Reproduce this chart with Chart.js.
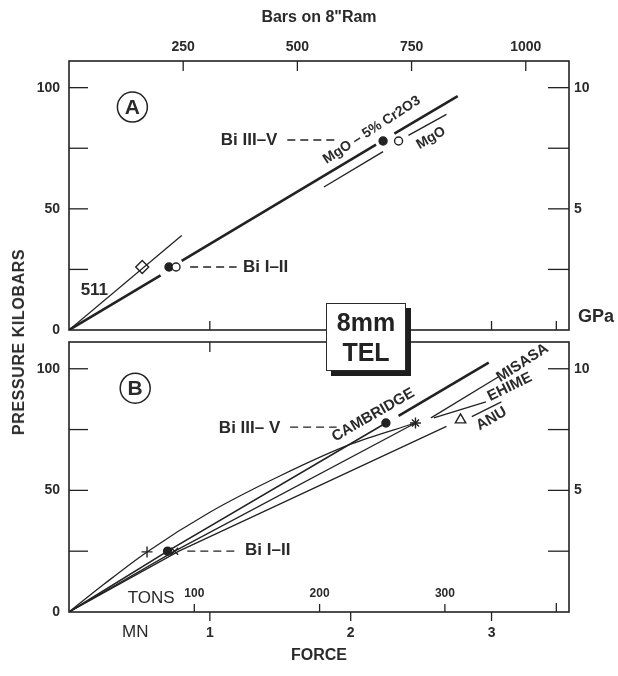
<!DOCTYPE html>
<html>
<head>
<meta charset="utf-8">
<script src="https://cdn.jsdelivr.net/npm/chart.js@4.4.1/dist/chart.umd.min.js"></script>
<style>
  html, body { margin: 0; padding: 0; background: #fff; }
  #wrap { position: relative; width: 618px; height: 676px; overflow: hidden; }
  canvas { position: absolute; left: 0; }
  #chartA { top: 0; }
  #chartB { top: 300px; }
  .ytitle {
    position: absolute; left: 19px; top: 342px;
    transform: translate(-50%, -50%) rotate(-90deg);
    font: bold 16px 'Liberation Sans', Arial, sans-serif;
    letter-spacing: 0.6px; white-space: nowrap; color: #2a2a2a;
  }
  .tel {
    position: absolute; left: 326px; top: 303px; width: 80px; height: 68px;
    box-sizing: border-box; border: 1.5px solid #2a2a2a; background: #fff;
    box-shadow: 5px 5px 0 #1e1e1e; text-align: center; color: #222;
    font: bold 25px/30px 'Liberation Sans', Arial, sans-serif; padding-top: 3px;
  }
</style>
</head>
<body>
<div id="wrap">
  <canvas id="chartA" width="618" height="370"></canvas>
  <canvas id="chartB" width="618" height="376"></canvas>
  <div class="ytitle">PRESSURE KILOBARS</div>
  <div class="tel">8mm<br>TEL</div>
</div>
<script>
// axis ranges and conversions (force in MN, pressure in kbar)
const forceMax = 3.55
const kbarMax = 111
const barsPerMN = 1000 / 3.243   // 8" ram
const tonsPerMN = 1000 / 8.896   // short tons

// tick labels
const barsTicks = [250, 500, 750, 1000]
const kbarTicks = [0, 50, 100]
const kbarMarks = [25, 50, 75, 100]
const gpaTicks = [5, 10]
const gpaMarks = [2.5, 5, 7.5, 10]
const mnTicks = [1, 2, 3]
const tonsTicks = [100, 200, 300]
const pressEndMN = [3.46]

// panel A : MgO-5%Cr2O3 (thick), MgO, 511
const aCrForce = [0, 0.65, 0.72, 0.80, 2.18, 2.24, 2.31, 2.76]
const aCrKbar = [0, 22.5, null, 28.5, 76.5, null, 81, 96.5]
const aMgoForce = [1.81, 2.23, 2.32, 2.41, 2.68]
const aMgoKbar = [59, 73.6, null, 80.3, 89]
const a511Force = [0, 0.80]
const a511Kbar = [0, 39]
const aFilledForce = [0.71, 2.23]
const aFilledKbar = [26, 78]
const aOpenForce = [0.76, 2.34]
const aOpenKbar = [26, 78]
const a511PtForce = [0.52]
const a511PtKbar = [26]
const aBi35Force = [1.55, 1.92]
const aBi35Kbar = [78.4, 78.4]
const aBi12Force = [0.86, 1.19]
const aBi12Kbar = [26, 26]

// panel B : lab calibrations
const misasaForce = [0, 0.25, 0.554, 1.0, 1.5, 2.0, 2.46]
const misasaKbar = [0, 11.5, 24.7, 41, 56, 69, 77.7]
const misasaLeadForce = [2.57, 3.05]
const misasaLeadKbar = [79.8, 96.7]
const cambForce = [0, 0.70, 2.25]
const cambKbar = [0, 25, 77.7]
const cambLeadForce = [2.34, 2.98]
const cambLeadKbar = [80.6, 102.5]
const ehimeForce = [0, 0.75, 2.46]
const ehimeKbar = [0, 25, 77.7]
const ehimeLeadForce = [2.59, 2.96]
const ehimeLeadKbar = [79.8, 86.4]
const anuForce = [0, 0.78, 2.68]
const anuKbar = [0, 25, 76.3]
const anuLeadForce = [2.86, 3.07]
const anuLeadKbar = [80.3, 86.4]
const cambPtForce = [0.70, 2.25]
const cambPtKbar = [25, 77.7]
const misasaPtForce = [0.554, 2.46]
const misasaPtKbar = [24.7, 77.7]
const ehimePtForce = [0.75, 2.46]
const ehimePtKbar = [25, 77.7]
const anuPtForce = [2.78]
const anuPtKbar = [79]
const bBi35Force = [1.57, 1.90]
const bBi35Kbar = [76, 76]
const bBi12Force = [0.84, 1.19]
const bBi12Kbar = [25, 25]

const ink = '#222'
const textInk = '#2a2a2a'
const family = "'Liberation Sans', Arial, sans-serif"
Chart.defaults.font.family = family
Chart.defaults.color = textInk

const pts = (xs, ys) => xs.map((x, i) => ({ x: x, y: ys[i] }))

function line(xs, ys, width, extra) {
  return Object.assign({ data: pts(xs, ys), borderColor: ink, borderWidth: width, pointRadius: 0, fill: false, tension: 0 }, extra || {})
}
function marks(xs, ys, style, radius, filled) {
  return {
    data: pts(xs, ys), showLine: false, pointStyle: style, pointRadius: radius,
    pointBorderColor: ink, pointBorderWidth: 1.4,
    pointBackgroundColor: filled ? ink : '#fff'
  }
}

// inward frame ticks + frame
const frameTicks = {
  id: 'frameTicks',
  beforeDatasetsDraw(chart, args, opts) {
    const { ctx, chartArea: a } = chart
    ctx.save()
    ctx.strokeStyle = ink
    ctx.lineWidth = 1.3
    for (const t of opts.marks) {
      const s = chart.scales[t.scale]
      for (const v of t.values) {
        const p = s.getPixelForValue(v)
        ctx.beginPath()
        if (t.side === 'left') { ctx.moveTo(a.left, p); ctx.lineTo(a.left + t.len, p) }
        if (t.side === 'right') { ctx.moveTo(a.right - t.len, p); ctx.lineTo(a.right, p) }
        if (t.side === 'top') { ctx.moveTo(p, a.top); ctx.lineTo(p, a.top + t.len) }
        if (t.side === 'bottom') { ctx.moveTo(p, a.bottom); ctx.lineTo(p, a.bottom + t.len) }
        ctx.stroke()
      }
    }
    ctx.lineWidth = 1.6
    ctx.strokeRect(a.left, a.top, a.right - a.left, a.bottom - a.top)
    ctx.restore()
  }
}

// labels, circled panel letters
const notes = {
  id: 'notes',
  afterDatasetsDraw(chart, args, opts) {
    const { ctx, chartArea: a } = chart
    const xs = chart.scales.x, ys = chart.scales.y
    ctx.save()
    ctx.fillStyle = textInk
    for (const n of opts.items) {
      const sx = chart.scales[n.xScale || 'x']
      let px = n.x !== undefined ? sx.getPixelForValue(n.x) : a.right + n.dx
      let py = n.y !== undefined ? ys.getPixelForValue(n.y) : a.bottom + n.dy
      ctx.save()
      ctx.translate(px, py)
      ctx.rotate((n.rot || 0) * Math.PI / 180)
      ctx.font = (n.weight || 'bold') + ' ' + n.size + 'px ' + family
      ctx.textAlign = n.align || 'center'
      ctx.textBaseline = 'middle'
      ctx.fillText(n.text, 0, 0)
      ctx.restore()
    }
    if (opts.circle) {
      const c = opts.circle
      const px = xs.getPixelForValue(c.x), py = ys.getPixelForValue(c.y)
      ctx.strokeStyle = ink
      ctx.lineWidth = 1.5
      ctx.beginPath()
      ctx.arc(px, py, 15, 0, Math.PI * 2)
      ctx.stroke()
      ctx.font = 'bold 21px ' + family
      ctx.textAlign = 'center'
      ctx.textBaseline = 'middle'
      ctx.fillText(c.text, px, py + 1)
    }
    ctx.restore()
  }
}

const tickFont = { size: 14, weight: 'bold' }
const setTicks = (list) => (s) => { s.ticks = list.map(v => ({ value: v })) }
const plain = (v) => String(v)

function yAxes() {
  return {
    y: {
      type: 'linear', position: 'left', min: 0, max: kbarMax,
      grid: { display: false, drawTicks: false }, border: { display: false },
      ticks: { font: tickFont, padding: 9, callback: plain },
      afterBuildTicks: setTicks(kbarTicks),
      afterFit: (s) => { s.width = 69 }
    },
    gpa: {
      type: 'linear', position: 'right', min: 0, max: kbarMax / 10,
      grid: { display: false, drawTicks: false }, border: { display: false },
      ticks: { font: tickFont, padding: 5, callback: plain },
      afterBuildTicks: setTicks(gpaTicks),
      afterFit: (s) => { s.width = 49 }
    }
  }
}

const chartA = new Chart(document.getElementById('chartA'), {
  type: 'line',
  data: {
    datasets: [
      line(aCrForce, aCrKbar, 2.6),
      line(aMgoForce, aMgoKbar, 1.4),
      line(a511Force, a511Kbar, 1.3),
      line(aBi35Force, aBi35Kbar, 1.3, { borderDash: [8, 5] }),
      line(aBi12Force, aBi12Kbar, 1.3, { borderDash: [8, 5] }),
      marks(aOpenForce, aOpenKbar, 'circle', 4, false),
      marks(aFilledForce, aFilledKbar, 'circle', 4, true),
      marks(a511PtForce, a511PtKbar, 'rectRot', 6.5, false)
    ]
  },
  options: {
    responsive: false, animation: false, devicePixelRatio: 1,
    layout: { padding: { top: 0, bottom: 40, left: 0, right: 0 } },
    scales: Object.assign({
      x: { type: 'linear', position: 'bottom', min: 0, max: forceMax, display: false },
      bars: {
        type: 'linear', position: 'top', min: 0, max: forceMax * barsPerMN,
        grid: { display: false, drawTicks: false }, border: { display: false },
        ticks: { font: tickFont, padding: 5, callback: plain },
        afterBuildTicks: setTicks(barsTicks),
        afterFit: (s) => { s.height = 61 },
        title: { display: true, text: 'Bars on 8"Ram', font: { size: 16, weight: 'bold' }, padding: { top: 8, bottom: 0 } }
      }
    }, yAxes()),
    plugins: {
      legend: { display: false },
      tooltip: { enabled: false },
      frameTicks: {
        marks: [
          { scale: 'y', values: kbarMarks, side: 'left', len: 19 },
          { scale: 'gpa', values: gpaMarks, side: 'right', len: 21 },
          { scale: 'bars', values: barsTicks, side: 'top', len: 10 },
          { scale: 'x', values: mnTicks.concat(pressEndMN), side: 'bottom', len: -9 }
        ]
      },
      notes: {
        circle: { x: 0.45, y: 92, text: 'A' },
        items: [
          { text: 'Bi III–V', x: 1.48, y: 78.4, align: 'right', size: 17 },
          { text: 'Bi I–II', x: 1.235, y: 26, align: 'left', size: 17 },
          { text: '511', x: 0.18, y: 16.5, size: 17 },
          { text: 'MgO – 5% Cr2O3', x: 2.15, y: 82.5, rot: -33, size: 14 },
          { text: 'MgO', x: 2.57, y: 79.2, rot: -30, size: 14 },
          { text: 'GPa', dx: 9, dy: -13, align: 'left', size: 18 }
        ]
      }
    }
  },
  plugins: [frameTicks, notes]
})

const chartB = new Chart(document.getElementById('chartB'), {
  type: 'line',
  data: {
    datasets: [
      line(misasaForce, misasaKbar, 1.3, { cubicInterpolationMode: 'monotone' }),
      line(misasaLeadForce, misasaLeadKbar, 1.3),
      line(cambForce, cambKbar, 1.6),
      line(cambLeadForce, cambLeadKbar, 2.6),
      line(ehimeForce, ehimeKbar, 1.3),
      line(ehimeLeadForce, ehimeLeadKbar, 1.3),
      line(anuForce, anuKbar, 1.3),
      line(anuLeadForce, anuLeadKbar, 1.3),
      line(bBi35Force, bBi35Kbar, 1.3, { borderDash: [8, 5] }),
      line(bBi12Force, bBi12Kbar, 1.3, { borderDash: [8, 5] }),
      marks(anuPtForce, anuPtKbar, 'triangle', 6, false),
      marks(cambPtForce, cambPtKbar, 'circle', 4, true),
      marks(misasaPtForce, misasaPtKbar, 'cross', 5.5, false),
      marks(ehimePtForce, ehimePtKbar, 'crossRot', 5, false)
    ]
  },
  options: {
    responsive: false, animation: false, devicePixelRatio: 1,
    layout: { padding: { top: 42, bottom: 0, left: 0, right: 0 } },
    scales: Object.assign({
      x: {
        type: 'linear', position: 'bottom', min: 0, max: forceMax,
        grid: { display: false, drawTicks: false }, border: { display: false },
        ticks: { font: tickFont, padding: 13, callback: plain },
        afterBuildTicks: setTicks(mnTicks),
        afterFit: (s) => { s.height = 64 },
        title: { display: true, text: 'FORCE', font: { size: 16, weight: 'bold' }, padding: { top: 0, bottom: 11 } }
      },
      tons: { type: 'linear', position: 'bottom', min: 0, max: forceMax * tonsPerMN, display: false }
    }, yAxes()),
    plugins: {
      legend: { display: false },
      tooltip: { enabled: false },
      frameTicks: {
        marks: [
          { scale: 'y', values: kbarMarks, side: 'left', len: 19 },
          { scale: 'gpa', values: gpaMarks, side: 'right', len: 21 },
          { scale: 'x', values: [1, 2], side: 'top', len: 10 },
          { scale: 'tons', values: tonsTicks, side: 'bottom', len: -8 },
          { scale: 'x', values: pressEndMN, side: 'bottom', len: -9 },
          { scale: 'x', values: mnTicks, side: 'bottom', len: 9 }
        ]
      },
      notes: {
        circle: { x: 0.47, y: 92, text: 'B' },
        items: [
          { text: 'Bi III– V', x: 1.50, y: 75.7, align: 'right', size: 17 },
          { text: 'Bi I–II', x: 1.25, y: 25.5, align: 'left', size: 17 },
          { text: 'CAMBRIDGE', x: 2.16, y: 81, rot: -30, size: 15 },
          { text: 'MISASA', x: 3.22, y: 102.4, rot: -33, size: 15 },
          { text: 'EHIME', x: 3.13, y: 92.5, rot: -26, size: 15 },
          { text: 'ANU', x: 3.00, y: 79.4, rot: -30, size: 15 },
          { text: 'TONS', x: 0.75, y: 5.6, align: 'right', size: 17, weight: 'normal' },
          { text: 'MN', x: 0.47, dy: 20, size: 17, weight: 'normal' }
        ].concat(tonsTicks.map(v => ({ text: String(v), x: v, xScale: 'tons', dy: -18, size: 12 })))
      }
    }
  },
  plugins: [frameTicks, notes]
})
</script>
</body>
</html>
